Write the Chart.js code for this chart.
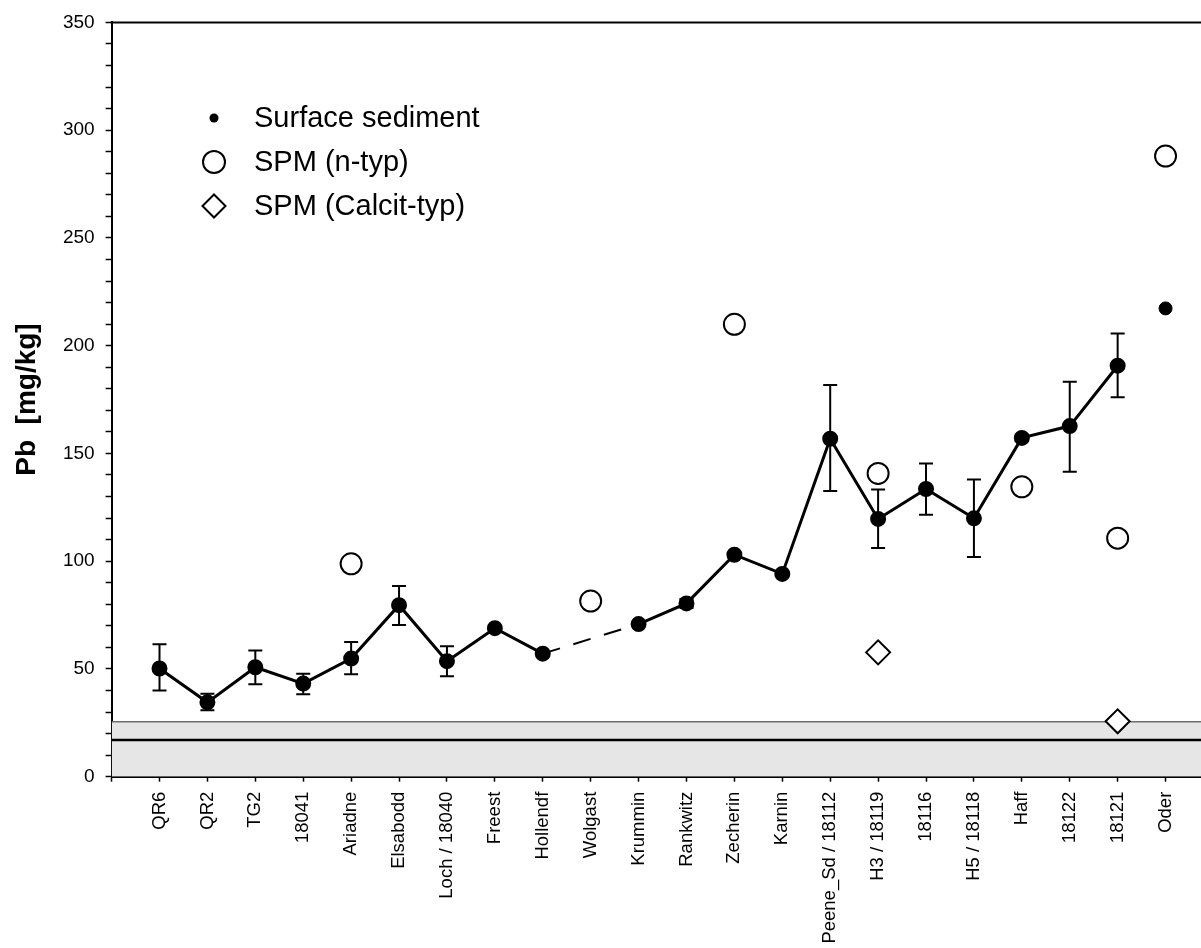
<!DOCTYPE html>
<html>
<head>
<meta charset="utf-8">
<script src="https://cdn.jsdelivr.net/npm/chart.js@4.4.1/dist/chart.umd.min.js"></script>
<style>
  html, body { margin: 0; padding: 0; background: #fff; }
  #wrap { width: 1201px; height: 948px; }
</style>
</head>
<body>
<div id="wrap"><canvas id="pbChart" width="1201" height="948"></canvas></div>
<script>
// Stations along the x axis
const sites = ['QR6', 'QR2', 'TG2', '18041', 'Ariadne', 'Elsabodd', 'Loch / 18040', 'Freest',
  'Hollendf', 'Wolgast', 'Krummin', 'Rankwitz', 'Zecherin', 'Karnin', 'Peene_Sd / 18112',
  'H3 / 18119', '18116', 'H5 / 18118', 'Haff', '18122', '18121', 'Oder'];

// Surface sediment, Pb mg/kg (mean and error bar ends)
const sedimentMean = [50.2, 34.5, 50.8, 43.2, 54.8, 79.6, 53.6, 68.9, 57.1, null, 70.8, 80.4,
  103.0, 94.1, 156.8, 119.6, 133.5, 119.9, 157.2, 162.7, 190.7, 217.3];
const sedimentHigh = [61.4, 38.5, 58.5, 47.8, 62.5, 88.5, 60.5, null, null, null, null, 82.5,
  null, null, 181.7, 133.3, 145.3, 137.9, 158.8, 183.3, 205.6, null];
const sedimentLow = [40.0, 30.8, 42.9, 38.3, 47.5, 70.4, 46.6, null, null, null, null, 78.3,
  null, null, 132.6, 106.1, 121.5, 101.9, 155.6, 141.5, 176.1, null];

// SPM samples
const spmN = [null, null, null, null, 98.8, null, null, null, null, 81.5, null, null,
  209.9, null, null, 140.7, null, null, 134.5, null, 110.7, 288.0];
const spmCalcit = [null, null, null, null, null, null, null, null, null, null, null, null,
  null, null, null, 57.7, null, null, null, null, 25.7, null];

// background band and line
const bgUpper = 25.5;
const bgLine = 17;

const yTicks = [0, 50, 100, 150, 200, 250, 300, 350];

const lastLinked = 20; // line stops at 18121, Oder is a lone point

function pts(arr) {
  return arr.map((v, i) => ({ x: i, y: v }));
}

// segment crosses a missing station -> dashed
function overGap(c) {
  return sedimentMean[c.p1DataIndex - 1] == null;
}

Chart.defaults.font.family = "'Liberation Sans', Arial, sans-serif";
Chart.defaults.color = '#000';

// error bars on the surface sediment means
const errorBars = {
  id: 'errorBars',
  afterDatasetsDraw(chart) {
    const { ctx } = chart;
    const x = chart.scales.x, y = chart.scales.y;
    ctx.save();
    ctx.strokeStyle = '#000';
    ctx.lineWidth = 2;
    sedimentMean.forEach((m, i) => {
      if (sedimentHigh[i] == null) return;
      const px = x.getPixelForValue(i);
      const top = y.getPixelForValue(sedimentHigh[i]);
      const bot = y.getPixelForValue(sedimentLow[i]);
      ctx.beginPath();
      ctx.moveTo(px, top); ctx.lineTo(px, bot);
      ctx.moveTo(px - 7, top); ctx.lineTo(px + 7, top);
      ctx.moveTo(px - 7, bot); ctx.lineTo(px + 7, bot);
      ctx.stroke();
    });
    ctx.restore();
  }
};

// top frame line + legend
const frameAndLegend = {
  id: 'frameAndLegend',
  afterDraw(chart) {
    const { ctx, chartArea } = chart;
    ctx.save();
    ctx.strokeStyle = '#000';
    ctx.lineWidth = 2;
    ctx.beginPath();
    ctx.moveTo(chartArea.left - 1, chartArea.top);
    ctx.lineTo(chartArea.right, chartArea.top);
    ctx.stroke();

    const mx = 214, tx = 254;
    const rows = [118, 162, 206];
    ctx.fillStyle = '#000';
    ctx.beginPath();
    ctx.arc(mx, rows[0], 4.5, 0, Math.PI * 2);
    ctx.fill();
    ctx.lineWidth = 2;
    ctx.beginPath();
    ctx.arc(mx, rows[1], 11, 0, Math.PI * 2);
    ctx.stroke();
    ctx.beginPath();
    ctx.moveTo(mx - 11.5, rows[2]);
    ctx.lineTo(mx, rows[2] - 11.5);
    ctx.lineTo(mx + 11.5, rows[2]);
    ctx.lineTo(mx, rows[2] + 11.5);
    ctx.closePath();
    ctx.stroke();

    ctx.font = "29px 'Liberation Sans', Arial, sans-serif";
    ctx.textBaseline = 'middle';
    ctx.textAlign = 'left';
    ctx.fillText('Surface sediment', tx, rows[0] + 1);
    ctx.fillText('SPM (n-typ)', tx, rows[1] + 1);
    ctx.fillText('SPM (Calcit-typ)', tx, rows[2] + 1);
    ctx.restore();
  }
};

new Chart(document.getElementById('pbChart'), {
  type: 'scatter',
  data: {
    datasets: [
      {
        label: 'Surface sediment',
        type: 'line',
        data: pts(sedimentMean).slice(0, lastLinked + 1),
        borderColor: '#000',
        borderWidth: 3,
        backgroundColor: '#000',
        pointBackgroundColor: '#000',
        pointBorderColor: '#000',
        pointRadius: 6.5,
        spanGaps: true,
        fill: false,
        segment: {
          borderDash: c => (overGap(c) ? [18, 14] : undefined),
          borderWidth: c => (overGap(c) ? 2 : undefined)
        },
        order: 2
      },
      {
        label: 'Surface sediment (Oder)',
        data: pts(sedimentMean).slice(lastLinked + 1),
        showLine: false,
        pointBackgroundColor: '#000',
        pointBorderColor: '#000',
        pointRadius: 6.5,
        order: 2
      },
      {
        label: 'SPM (n-typ)',
        data: pts(spmN),
        showLine: false,
        pointStyle: 'circle',
        pointRadius: 10.5,
        pointBorderWidth: 2,
        pointBorderColor: '#000',
        pointBackgroundColor: '#fff',
        order: 1
      },
      {
        label: 'SPM (Calcit-typ)',
        data: pts(spmCalcit),
        showLine: false,
        pointStyle: 'rectRot',
        pointRadius: 12,
        pointBorderWidth: 2,
        pointBorderColor: '#000',
        pointBackgroundColor: '#fff',
        order: 1
      },
      {
        label: 'bg line',
        type: 'line',
        data: [{ x: -1, y: bgLine }, { x: 23, y: bgLine }],
        borderColor: '#000',
        borderWidth: 2.5,
        pointRadius: 0,
        fill: false,
        order: 5
      },
      {
        label: 'bg band',
        type: 'line',
        data: [{ x: -1, y: bgUpper }, { x: 23, y: bgUpper }],
        borderColor: '#6e6e6e',
        borderWidth: 1.5,
        backgroundColor: '#e6e6e6',
        pointRadius: 0,
        fill: 'origin',
        order: 6
      }
    ]
  },
  options: {
    responsive: false,
    animation: false,
    layout: { autoPadding: false, padding: { top: 18, right: 0, left: 0, bottom: 0 } },
    plugins: {
      legend: { display: false },
      tooltip: { enabled: false }
    },
    scales: {
      x: {
        type: 'linear',
        min: -1,
        max: 21.74,
        z: 1,
        afterBuildTicks: s => {
          s.ticks = [{ value: -1 }].concat(sites.map((_, i) => ({ value: i })));
        },
        afterFit: s => {
          s.height = 171.3;
          s.paddingLeft = 0;
          s.paddingRight = 0;
        },
        border: { display: true, color: '#000', width: 2 },
        grid: { drawOnChartArea: false, drawTicks: true, tickLength: 5, tickColor: '#000', tickWidth: 1.5 },
        ticks: {
          autoSkip: false,
          minRotation: 90,
          maxRotation: 90,
          padding: 10,
          font: { size: 18.5 },
          color: '#000',
          callback: v => (sites[v] !== undefined ? sites[v] : '')
        }
      },
      y: {
        type: 'linear',
        min: 0,
        max: 350,
        z: 1,
        afterFit: s => { s.width = 111.6; },
        border: { display: true, color: '#000', width: 2 },
        grid: { drawOnChartArea: false, drawTicks: true, tickLength: 6, tickColor: '#000', tickWidth: 1.5 },
        ticks: {
          autoSkip: false,
          stepSize: 10,
          padding: 11,
          font: { size: 19 },
          color: '#000',
          callback: v => (yTicks.includes(v) ? v : '')
        },
        title: {
          display: true,
          text: 'Pb  [mg/kg]',
          color: '#000',
          font: { size: 28, weight: 'bold' },
          padding: { top: 10, bottom: 0 }
        }
      }
    }
  },
  plugins: [errorBars, frameAndLegend]
});
</script>
</body>
</html>
